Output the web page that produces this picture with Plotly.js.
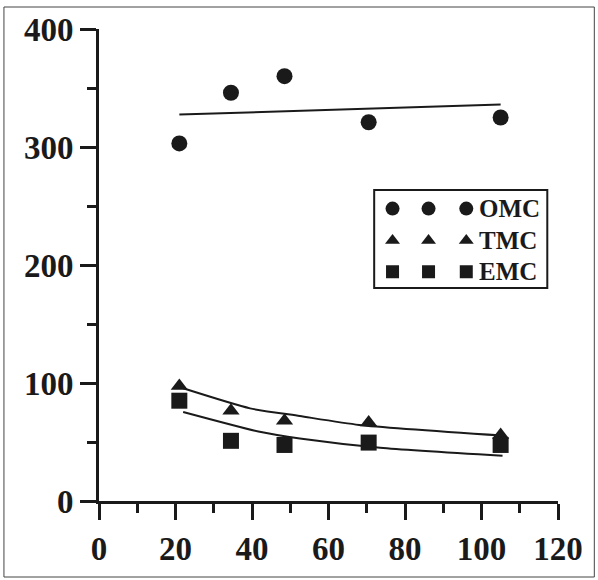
<!DOCTYPE html>
<html>
<head>
<meta charset="utf-8">
<script src="https://cdn.plot.ly/plotly-3.0.1.min.js"></script>
<style>
  html, body { margin: 0; padding: 0; background: #fff; }
  #chart { width: 598px; height: 580px; }
</style>
</head>
<body>
<div id="chart"></div>
<script>
// ---- data ----
const seriesNames = ["OMC", "TMC", "EMC"];
const xPoints = [21, 34.5, 48.5, 70.5, 105];
const omcValues = [303, 346, 360, 321, 325];
const tmcValues = [97.5, 76.5, 68, 66.5, 56];
const emcValues = [85, 51, 47.5, 49.5, 47.5];

const omcFitX = [21, 105];
const omcFitY = [327.5, 336];
const tmcFitX = [22, 39.5, 52.5, 68, 105.5];
const tmcFitY = [95.5, 78.5, 72, 64.5, 55.5];
const emcFitX = [22, 42, 52.5, 73.5, 105.5];
const emcFitY = [75.5, 58.7, 53, 45.2, 38.4];

const xTickVals = [0, 20, 40, 60, 80, 100, 120];
const yTickVals = [0, 100, 200, 300, 400];

// ---- styling ----
const ink = "#1a1a1a";
const serif = "Liberation Serif, Times New Roman, serif";
const symbols = ["circle", "triangle-up", "square"];
const markerSizes = [16, 15, 16];

const traces = [];
const values = [omcValues, tmcValues, emcValues];
const fitsX = [omcFitX, tmcFitX, emcFitX];
const fitsY = [omcFitY, tmcFitY, emcFitY];

for (let i = 0; i < 3; i++) {
  traces.push({
    type: "scatter", mode: "lines", x: fitsX[i], y: fitsY[i],
    line: { color: ink, width: 2, shape: "spline", smoothing: 0.6 },
    showlegend: false, hoverinfo: "skip"
  });
  traces.push({
    type: "scatter", mode: "markers", x: xPoints, y: values[i], name: seriesNames[i],
    marker: { symbol: symbols[i], size: markerSizes[i], color: ink, line: { width: 0 } },
    showlegend: false
  });
}

// Origin-style legend drawn in a small auxiliary axis box (three symbols per row)
const legendRowsY = [0.81, 0.485, 0.165];
const legendSymX = [0.106, 0.314, 0.532];
const legendSizes = [14, 13, 13];
for (let i = 0; i < 3; i++) {
  traces.push({
    type: "scatter", mode: "markers", xaxis: "x2", yaxis: "y2",
    x: legendSymX, y: legendSymX.map(() => legendRowsY[i]),
    marker: { symbol: symbols[i], size: legendSizes[i], color: ink },
    showlegend: false, hoverinfo: "skip"
  });
}

const W = 598, H = 580;
const L = 99, R = 557.7, T = 29, B = 501;
const pw = R - L, ph = B - T;
const px = v => (v - L) / pw;
const py = v => (B - v) / ph;

const legBox = { x0: 374, x1: 547, y0: 190, y1: 288 };

const layout = {
  width: W, height: H,
  margin: { l: L, r: W - R, t: T, b: H - B, pad: 0 },
  paper_bgcolor: "#fff", plot_bgcolor: "#fff",
  showlegend: false,
  font: { family: serif, color: ink },
  xaxis: {
    range: [0, 120], tickvals: xTickVals, ticktext: xTickVals.map(String),
    showgrid: false, zeroline: false, showline: true, linecolor: ink, linewidth: 3,
    ticks: "outside", ticklen: 16, tickwidth: 3, tickcolor: ink,
    minor: { ticks: "outside", dtick: 10, tick0: 0, ticklen: 9, tickwidth: 3, tickcolor: ink, showgrid: false },
    tickfont: { family: serif, size: 33, weight: "bold", color: ink },
    fixedrange: true
  },
  yaxis: {
    range: [0, 400], tickvals: yTickVals, ticktext: yTickVals.map(String),
    showgrid: false, zeroline: false, showline: true, linecolor: ink, linewidth: 3,
    ticks: "outside", ticklen: 16, tickwidth: 3, tickcolor: ink,
    minor: { ticks: "outside", dtick: 50, tick0: 0, ticklen: 9, tickwidth: 3, tickcolor: ink, showgrid: false },
    tickfont: { family: serif, size: 33, weight: "bold", color: ink },
    fixedrange: true
  },
  xaxis2: {
    domain: [px(legBox.x0), px(legBox.x1)], range: [0, 1], anchor: "y2",
    visible: false, fixedrange: true
  },
  yaxis2: {
    domain: [py(legBox.y1), py(legBox.y0)], range: [0, 1], anchor: "x2",
    visible: false, fixedrange: true
  },
  shapes: [
    { type: "rect", xref: "paper", yref: "paper",
      x0: px(legBox.x0), x1: px(legBox.x1), y0: py(legBox.y1), y1: py(legBox.y0),
      line: { color: ink, width: 2 }, fillcolor: "rgba(0,0,0,0)" },
    { type: "rect", xref: "paper", yref: "paper",
      x0: px(4), x1: px(594), y0: py(577), y1: py(7),
      line: { color: "#444", width: 1 }, fillcolor: "rgba(0,0,0,0)" }
  ],
  annotations: seriesNames.map((n, i) => ({
    xref: "x2", yref: "y2", x: 0.595, y: legendRowsY[i],
    xanchor: "left", yanchor: "middle", showarrow: false,
    text: n, font: { family: serif, size: 25, weight: "bold", color: ink }
  }))
};

Plotly.newPlot("chart", traces, layout, { displayModeBar: false, staticPlot: true });
</script>
</body>
</html>
